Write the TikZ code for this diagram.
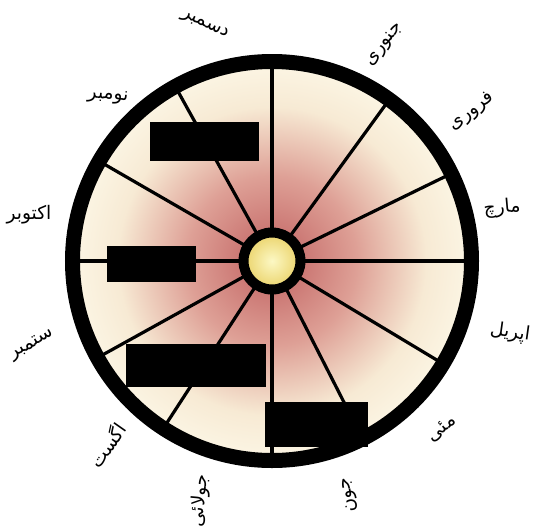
\documentclass[tikz,border=0pt]{standalone}
\usepackage{fontspec}
\usepackage{tikz}
\newfontfamily\urdufont[Script=Arabic]{DejaVu Sans}
\TeXXeTstate=1
\definecolor{redc}{RGB}{192,96,96}
\definecolor{pinkc}{RGB}{222,160,150}
\definecolor{creamc}{RGB}{247,234,212}
\definecolor{rimcream}{RGB}{251,244,226}
\definecolor{hubin}{RGB}{252,248,196}
\definecolor{hubout}{RGB}{234,210,104}
\pgfdeclareradialshading{wheelshade}{\pgfpoint{0bp}{0bp}}{color(0bp)=(redc); color(11bp)=(pinkc); color(20bp)=(creamc); color(25bp)=(rimcream); color(50bp)=(rimcream)}
\newcommand{\ur}[1]{{\urdufont\fontsize{14}{16}\selectfont\beginR #1\endR}}
\tikzset{month/.style={inner sep=1pt}}

\begin{document}
\begin{tikzpicture}[x=0.75pt,y=0.75pt]
\useasboundingbox (-272,-268) rectangle (269,261);
% wheel face and rim
\fill[shading=wheelshade] (0,0) circle (193);
\foreach \a in {90,54,26,0,-31,-63,-90,-123,-151,180,150,119}
  \draw[line width=2.4pt] (\a:30) -- (\a:194);
\draw[line width=11.25pt] (0,0) circle (199.5);
% hub
\node[circle,draw,line width=7.5pt,minimum size=42.75pt,inner sep=0pt,inner color=hubin,outer color=hubout] (hub) at (0,0) {};
% months
\node[month,rotate=52] (jan) at (113,216) {\ur{جنوری}};
\node[month,rotate=38] (feb) at (200,149) {\ur{فروری}};
\node[month,rotate=5] (mar) at (230,53) {\ur{مارچ}};
\node[month,rotate=-8] (apr) at (238,-72) {\ur{اپریل}};
\node[month,rotate=40] (may) at (170,-168) {\ur{مئی}};
\node[month,rotate=100] (jun) at (78,-234) {\ur{جون}};
\node[month,rotate=85] (jul) at (-72,-240) {\ur{جولائی}};
\node[month,rotate=55] (aug) at (-165,-184) {\ur{اگست}};
\node[month,rotate=30] (sep) at (-240,-84) {\ur{ستمبر}};
\node[month,rotate=0] (oct) at (-243,46) {\ur{اکتوبر}};
\node[month,rotate=-5] (nov) at (-164,164) {\ur{نومبر}};
\node[month,rotate=-25] (dec) at (-67,236) {\ur{دسمبر}};
% blacked-out boxes
\fill (-122,139) rectangle (-13,100);
\fill (-165,15) rectangle (-76,-21);
\fill (-146,-83) rectangle (-6,-126);
\fill (-7,-141) rectangle (96,-186);
\end{tikzpicture}
\end{document}
